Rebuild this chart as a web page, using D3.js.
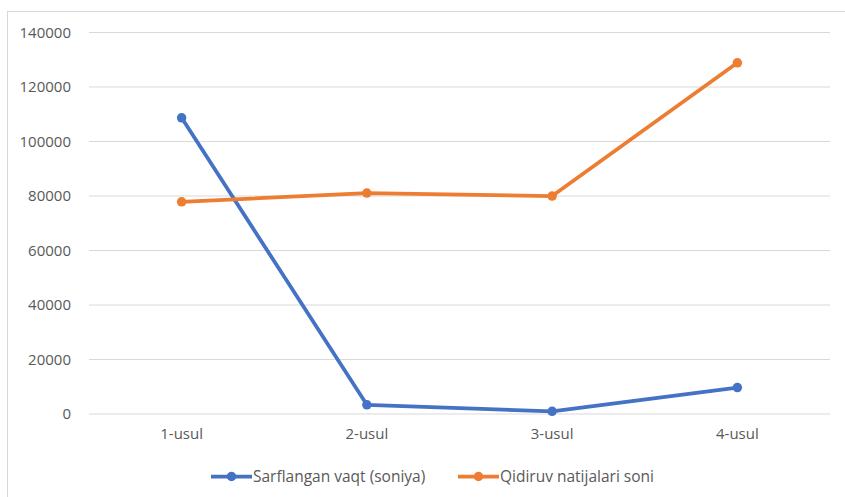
<!DOCTYPE html>
<html>
<head>
<meta charset="utf-8">
<script src="https://cdn.jsdelivr.net/npm/d3@7"></script>
<style>
  html, body { margin: 0; padding: 0; background: #fff; }
  svg { display: block; }
  text { font-family: "Open Sans", sans-serif; fill: #595959; }
</style>
</head>
<body>
<svg id="chart" width="845" height="497"></svg>
<script>
const categories = ["1-usul", "2-usul", "3-usul", "4-usul"];
const seriesNames = ["Sarflangan vaqt (soniya)", "Qidiruv natijalari soni"];
const sarflanganVaqt = [108500, 3200, 800, 9500];
const qidiruvNatijalari = [77700, 80900, 79800, 128700];
const yTicks = [0, 20000, 40000, 60000, 80000, 100000, 120000, 140000];
const colors = ["#4472C4", "#ED7D31"];

const svg = d3.select("#chart");
const W = 845, H = 497;
const margin = { left: 89, right: 15, top: 32, bottom: 83.5 };

svg.append("rect")
  .attr("x", 7.5).attr("y", 11.5)
  .attr("width", W + 10).attr("height", H + 10)
  .attr("fill", "#fff").attr("stroke", "#d9d9d9").attr("stroke-width", 1);

const x = d3.scaleBand()
  .domain(categories)
  .range([margin.left, W - margin.right]);

const y = d3.scaleLinear()
  .domain([0, 140000])
  .range([H - margin.bottom, margin.top]);

// gridlines
const grid = svg.append("g")
  .attr("transform", `translate(${margin.left},0)`)
  .call(d3.axisLeft(y).tickValues(yTicks).tickSize(-(W - margin.right - margin.left)).tickFormat(""));
grid.select(".domain").remove();
grid.selectAll(".tick line").attr("stroke", "#d9d9d9").attr("stroke-width", 1);

// y labels
const yAxis = svg.append("g")
  .attr("transform", `translate(${margin.left - 18},0)`)
  .call(d3.axisLeft(y).tickValues(yTicks).tickSize(0).tickPadding(0).tickFormat(d3.format("d")));
yAxis.select(".domain").remove();
yAxis.selectAll("text")
  .style("font-family", "'Open Sans', sans-serif")
  .style("font-size", "15px").attr("fill", "#595959").attr("dy", "0.35em");

// x labels
const xAxis = svg.append("g")
  .attr("transform", `translate(0,${H - margin.bottom})`)
  .call(d3.axisBottom(x).tickSize(0).tickPadding(15));
xAxis.select(".domain").remove();
xAxis.selectAll("text")
  .style("font-family", "'Open Sans', sans-serif")
  .style("font-size", "15px").attr("fill", "#595959");

const cx = d => x(d) + x.bandwidth() / 2;
const series = [sarflanganVaqt, qidiruvNatijalari];

series.forEach((vals, i) => {
  const data = categories.map((c, k) => ({ c, v: vals[k] }));
  const line = d3.line().x(d => cx(d.c)).y(d => y(d.v));
  const g = svg.append("g");
  g.append("path").datum(data)
    .attr("d", line).attr("fill", "none")
    .attr("stroke", colors[i]).attr("stroke-width", 3.75)
    .attr("stroke-linejoin", "round").attr("stroke-linecap", "round");
  g.selectAll("circle").data(data).join("circle")
    .attr("cx", d => cx(d.c)).attr("cy", d => y(d.v)).attr("r", 4.75)
    .attr("fill", colors[i]);
});

// legend
const legendY = 476.5;
const legendItems = [
  { name: seriesNames[0], color: colors[0], x0: 211 },
  { name: seriesNames[1], color: colors[1], x0: 458 }
];
legendItems.forEach(it => {
  const g = svg.append("g");
  g.append("line").attr("x1", it.x0).attr("x2", it.x0 + 41)
    .attr("y1", legendY).attr("y2", legendY)
    .attr("stroke", it.color).attr("stroke-width", 3.75);
  g.append("circle").attr("cx", it.x0 + 20.5).attr("cy", legendY).attr("r", 4.75).attr("fill", it.color);
  g.append("text").attr("x", it.x0 + 42).attr("y", legendY).attr("dy", "0.35em")
    .style("font-size", "15.5px").text(it.name);
});
</script>
</body>
</html>
